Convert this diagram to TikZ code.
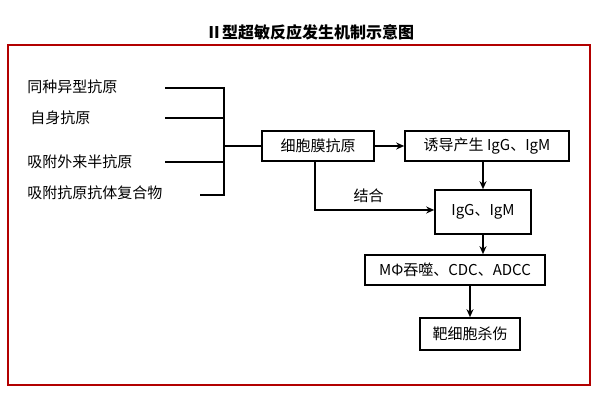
\documentclass[tikz,border=0pt]{standalone}
\usepackage{fontspec}
\newfontfamily\cjk{Noto Sans CJK SC}
\usetikzlibrary{arrows.meta}
\begin{document}
\begin{tikzpicture}[x=0.5pt,y=-0.5pt,
  bx/.style={draw,thick,inner sep=2pt,font=\cjk\fontsize{7.5}{9}\selectfont,minimum height=15pt},
  lbl/.style={anchor=west,inner sep=0pt,font=\cjk\fontsize{7.5}{9}\selectfont},
  ln/.style={thick},
  ar/.style={thick,-{Stealth[length=4pt,width=3.5pt]}}]
\useasboundingbox (0,0) rectangle (600,400);
\node[font=\cjk\bfseries\fontsize{8}{10}\selectfont] (title) at (310,32) {Ⅱ型超敏反应发生机制示意图};
\draw[red!70!black,thick] (8,45) rectangle (590,385);
\node[lbl] (t1) at (27,87) {同种异型抗原};
\node[lbl] (t2) at (30,118) {自身抗原};
\node[lbl] (t3) at (27,162) {吸附外来半抗原};
\node[lbl] (t4) at (27,193) {吸附抗原抗体复合物};
\coordinate (v1) at (224,88);
\coordinate (v4) at (224,195);
\coordinate (vm) at (224,146);
\node[bx,minimum width=56pt] (a) at (318,146) {细胞膜抗原};
\node[bx,minimum width=82pt] (b) at (487,146) {诱导产生 IgG、IgM};
\node[bx,minimum width=48pt,minimum height=22pt] (c) at (483,212) {IgG、IgM};
\node[bx,minimum width=90pt] (d) at (455,270) {MΦ吞噬、CDC、ADCC};
\node[bx,minimum width=50pt,minimum height=16pt] (e) at (470,334) {靶细胞杀伤};
\draw[ln] (165,88) -- (v1) -- (v4) -- (200,195);
\draw[ln] (165,118) -- (224,118);
\draw[ln] (165,162) -- (224,162);
\draw[ln] (vm) -- (a.west);
\draw[ar] (a) -- (b);
\draw[ar] (b.south -| c) -- (c.north);
\draw[ar] (c.south) -- (d.north -| c);
\draw[ar] (d.south -| e) -- (e.north);
\coordinate (k) at (315,210);
\draw[ar] (a.south -| k) -- (k) -- node[above,font=\cjk\fontsize{7.5}{9}\selectfont,pos=0.45] (jh) {结合} (c.west |- k);
\end{tikzpicture}
\end{document}
